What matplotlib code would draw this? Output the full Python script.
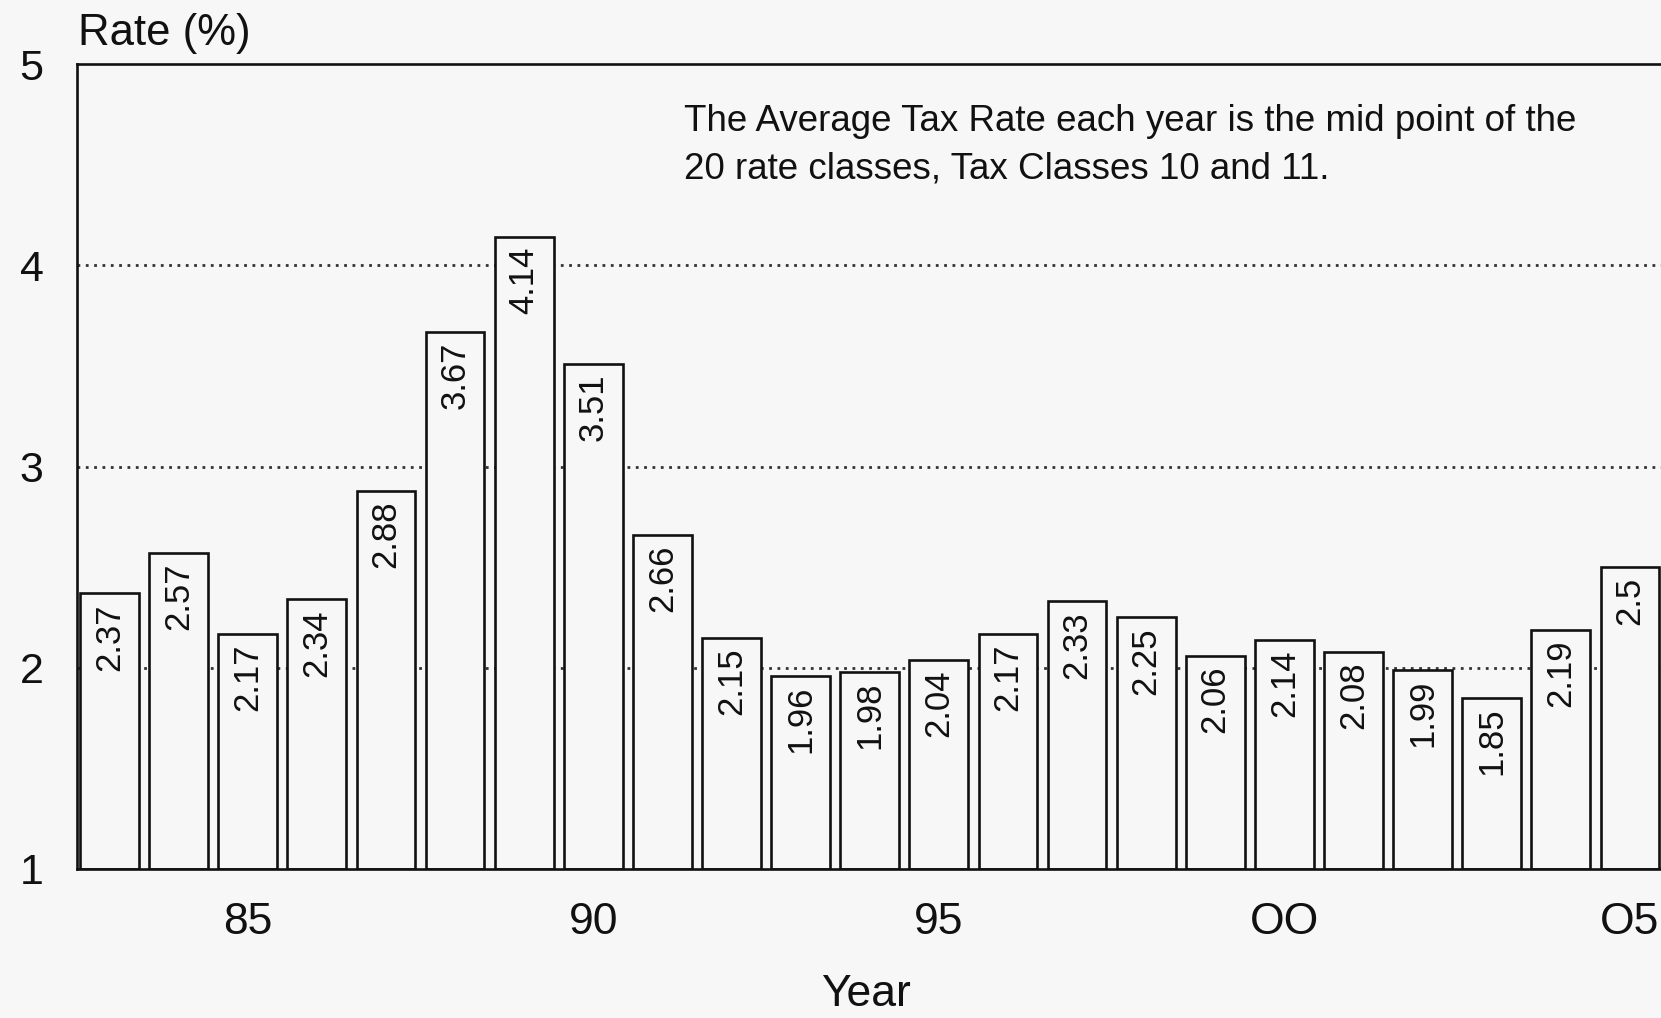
import matplotlib
matplotlib.use("Agg")
import matplotlib.pyplot as plt

## data
years = list(range(1983, 2006))
rates = [2.37, 2.57, 2.17, 2.34, 2.88, 3.67, 4.14, 3.51, 2.66, 2.15, 1.96, 1.98,
         2.04, 2.17, 2.33, 2.25, 2.06, 2.14, 2.08, 1.99, 1.85, 2.19, 2.5]
rate_labels = ['2.37', '2.57', '2.17', '2.34', '2.88', '3.67', '4.14', '3.51', '2.66',
               '2.15', '1.96', '1.98', '2.04', '2.17', '2.33', '2.25', '2.06', '2.14',
               '2.08', '1.99', '1.85', '2.19', '2.5']
xtick_years = [1985, 1990, 1995, 2000, 2005]
xtick_labels = ['85', '90', '95', 'OO', 'O5']
ytick_vals = [1, 2, 3, 4, 5]
note = ('The Average Tax Rate each year is the mid point of the\n'
        '20 rate classes, Tax Classes 10 and 11.')

plt.rcParams['font.family'] = ['Liberation Sans', 'DejaVu Sans']
ink = '#111111'
bg = '#f7f7f7'

W, H = 1661, 1018
fig = plt.figure(figsize=(W / 100, H / 100), dpi=100, facecolor=bg)
ax = fig.add_axes([77 / W, (H - 869) / H, 1 - 77 / W, (869 - 64) / H])
ax.set_facecolor(bg)

## dotted gridlines sit behind the white bars
for y in [2, 3, 4]:
    ax.axhline(y, color='#333333', lw=2.0, ls=(0, (1, 2.0)), zorder=1)

ax.bar(years, [r - 1 for r in rates], bottom=1, width=0.85,
       facecolor=bg, edgecolor=ink, linewidth=1.9, zorder=2)

## value labels, rotated, just under the top of each bar
for yr, r, lab in zip(years, rates, rate_labels):
    ax.annotate(lab, (yr, r), xytext=(0, -7), textcoords='offset points',
                rotation=90, ha='center', va='top', fontsize=25, color=ink, zorder=3)

ax.set_xlim(1982.53, 2005.45)
ax.set_ylim(1, 5)
ax.set_xticks(xtick_years)
ax.set_xticklabels(xtick_labels)
ax.set_yticks(ytick_vals)
ax.tick_params(axis='x', length=0, pad=24, labelsize=32, colors=ink)
ax.tick_params(axis='y', length=0, pad=24, labelsize=31, colors=ink)

for s in ['left', 'top', 'bottom']:
    ax.spines[s].set_color(ink)
    ax.spines[s].set_linewidth(1.9)
ax.spines['right'].set_visible(False)

fig.text(866 / W, 3 / H, 'Year', ha='center', va='bottom', fontsize=32, color=ink)
fig.text(78 / W, 1 - 45 / H, 'Rate (%)', ha='left', va='baseline', fontsize=31.5, color=ink)
fig.text(684 / W, 1 - 104 / H, note, ha='left', va='top', fontsize=26.5,
         color=ink, linespacing=1.45)

plt.savefig('out.png', dpi=100, facecolor=bg)
